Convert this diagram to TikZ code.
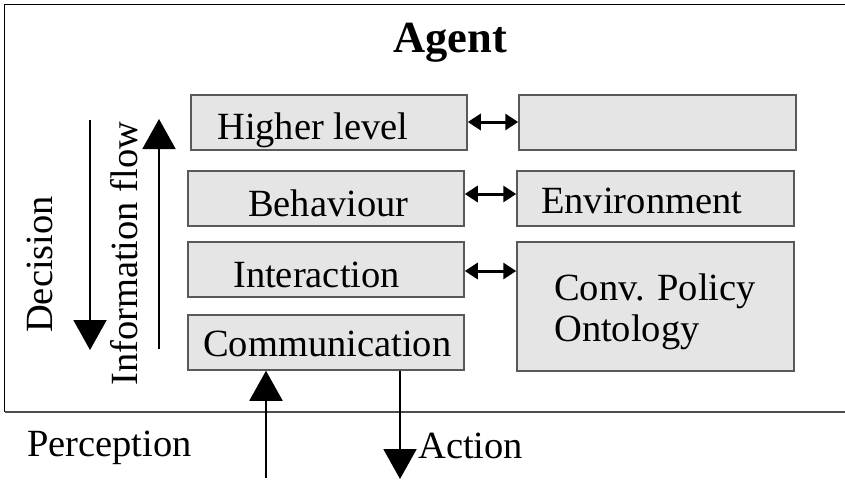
\documentclass[tikz,border=0pt]{standalone}
\usepackage{fontspec}
\setmainfont{Liberation Serif}
\usetikzlibrary{arrows.meta}
\begin{document}
\begin{tikzpicture}[x=1pt,y=-1pt,
  box/.style={draw=black!65,fill=black!10,line width=1.5pt,inner sep=0pt},
  lbl/.style={font=\fontsize{38.5}{44}\selectfont,inner sep=0pt,anchor=base west},
  bigarrow/.style={line width=2pt,-{Triangle[width=33pt,length=30pt]}},
  dblarrow/.style={line width=3pt,{Triangle[width=16pt,length=13pt]}-{Triangle[width=16pt,length=13pt]}}]
\useasboundingbox (0,0) rectangle (845,483);
% agent frame
\draw[line width=1.8pt] (845,4.5) -- (4.5,4.5) -- (4.5,412);
\draw[line width=1.5pt,black!70] (4.5,412) -- (845,412);
\node[font=\bfseries\fontsize{44.5}{50}\selectfont,inner sep=0pt,anchor=base] (agent) at (450,52) {Agent};
% left column boxes
\node[box,minimum width=276pt,minimum height=55pt] (hl) at (329,122.5) {};
\node[box,minimum width=276pt,minimum height=55pt] (beh) at (326,198.5) {};
\node[box,minimum width=276pt,minimum height=55pt] (int) at (326,269.5) {};
\node[box,minimum width=276pt,minimum height=55pt] (comm) at (326,342.5) {};
% right column boxes
\node[box,minimum width=277pt,minimum height=55pt] (top) at (657.5,122.5) {};
\node[box,minimum width=277pt,minimum height=55pt] (env) at (655.5,198.5) {};
\node[box,minimum width=277pt,minimum height=129pt] (conv) at (655.5,306.5) {};
% texts
\node[lbl] (thl) at (217,139) {Higher level};
\node[lbl] (tbeh) at (248,216) {Behaviour};
\node[lbl] (tint) at (233,287) {Interaction};
\node[lbl] (tcomm) at (203,356) {Communication};
\node[lbl] (tenv) at (541,213) {Environment};
\node[lbl] (tconv1) at (554,300) {Conv. Policy};
\node[lbl] (tconv2) at (554,341) {Ontology};
\node[lbl] (tperc) at (27,456) {Perception};
\node[lbl] (tact) at (418,458) {Action};
\node[lbl,rotate=90] (tdec) at (52,333) {Decision};
\node[lbl,rotate=90] (tinfo) at (137,386) {Information flow};
% double arrows
\draw[dblarrow] ([yshift=0.5pt]hl.east) -- ([yshift=0.5pt]top.west);
\draw[dblarrow] ([yshift=4.5pt]beh.east) -- ([yshift=4.5pt]env.west);
\draw[dblarrow] ([yshift=-1.5pt]int.east) -- ([yshift=-1.5pt]int.east -| conv.west);
% vertical arrows
\coordinate (d0) at (90,120);
\coordinate (d1) at (90,350);
\draw[bigarrow] (d0) -- (d1);
\coordinate (i0) at (159,349);
\coordinate (i1) at (159,119);
\draw[bigarrow] (i0) -- (i1);
\coordinate (p0) at (266,478);
\draw[bigarrow] (p0) -- (p0 |- comm.south);
\coordinate (a1) at (400,479);
\draw[bigarrow] (a1 |- comm.south) -- (a1);
\end{tikzpicture}
\end{document}
